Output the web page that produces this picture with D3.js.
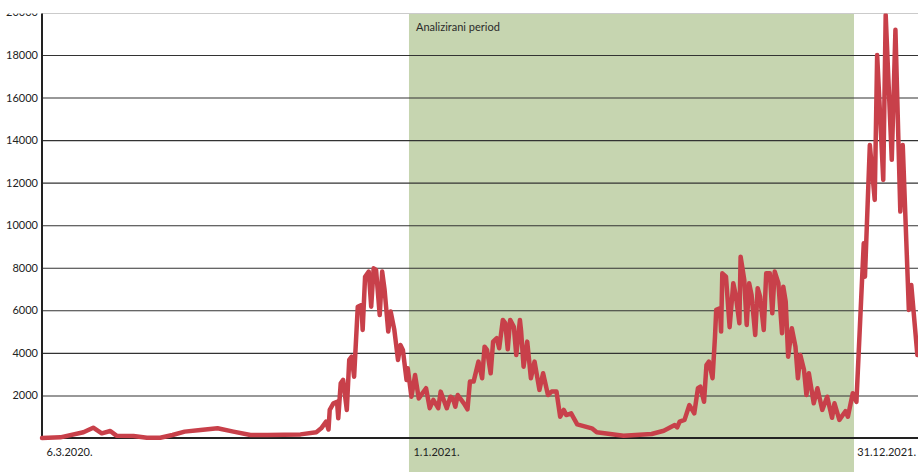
<!DOCTYPE html>
<html>
<head>
<meta charset="utf-8">
<script src="https://cdn.jsdelivr.net/npm/d3@7"></script>
<style>
  html, body { margin: 0; padding: 0; background: #fff; }
  svg { display: block; font-family: Lato, "Open Sans", sans-serif; }
</style>
</head>
<body>
<svg id="chart" width="918" height="472"></svg>
<script>
// ---- data ----
const days2020 = [
  "03-06","03-21",
  "04-09","04-17","04-24",
  "05-01","05-06","05-20","05-31",
  "06-11","06-21",
  "07-01","07-14","07-28",
  "08-10","08-24",
  "09-07",
  "10-04","10-17","10-21","10-25","10-27","10-28","10-31",
  "11-03","11-04","11-06","11-08","11-11","11-13","11-15","11-17","11-20","11-23","11-24","11-26","11-29",
  "12-01","12-03","12-05","12-08","12-10","12-12","12-15","12-17","12-20","12-23","12-25","12-27","12-30","12-31"
];
const cases2020 = [
  0,30,
  270,485,220,
  330,110,95,10,
  15,140,
  300,375,455,
  300,140,
  140,
  170,270,455,770,400,1320,1630,
  1700,925,2570,2730,1320,3670,3820,2880,6170,6250,5080,7580,7820,
  6170,7975,7900,5780,7820,6960,5000,5940,5080,3670,4370,4140,2730,3280
];
const days2021 = [
  "01-03","01-06","01-09","01-15","01-18","01-21","01-25","01-27",
  "02-01","02-04","02-06","02-08","02-10","02-15","02-18","02-20","02-23","02-27",
  "03-02","03-04","03-06","03-09","03-11","03-14","03-16","03-19","03-21","03-23","03-25","03-28","03-30",
  "04-02","04-03","04-05","04-08","04-11","04-14","04-18","04-21","04-25","04-28",
  "05-02","05-05","05-08","05-10","05-14","05-19","05-31",
  "06-04","06-26",
  "07-19","07-29",
  "08-07","08-09","08-11","08-15","08-19","08-23","08-26","08-28","08-31",
  "09-02","09-04","09-07","09-09","09-10","09-13","09-14","09-15","09-18","09-21","09-24","09-26","09-29","09-30",
  "10-03","10-05","10-07","10-09","10-12","10-14","10-16","10-19","10-21","10-24","10-26","10-28","10-31",
  "11-03","11-04","11-06","11-08","11-11","11-14","11-16","11-18","11-21","11-23","11-25","11-29",
  "12-02","12-06","12-10","12-14","12-16","12-20","12-25","12-27","12-31"
];
const cases2021 = [
  1940,2960,1860,2340,1400,1790,1400,2180,
  1400,1940,1860,1470,2020,1630,1350,2650,2650,3590,
  2810,4290,4140,3040,4530,4690,4220,5550,5400,4170,5550,5230,3900,
  5550,5000,3350,4530,2810,3590,2260,3040,2020,2180,
  2180,1000,1320,1080,1160,640,455,
  270,110,
  190,340,
  610,500,770,850,1550,1160,2340,2410,1700,
  3430,3590,2810,4760,6020,6100,5000,7740,7580,5210,7270,6720,5390,8520,
  7430,5310,7270,6720,4840,7040,6640,5080,7740,7740,5860,7820,7270,
  4920,7110,6410,3820,5160,4290,2810,3900,3200,2020,3040,1630,
  2340,1320,1940,950,1630,850,1260,1000,2100
];
const days2022 = [
  "01-03","01-09","01-10","01-14","01-18","01-20","01-25","01-27",
  "02-01","02-04","02-08","02-10","02-15","02-17","02-22"
];
const cases2022 = [
  1700,9150,7580,13770,11190,18000,12130,19880,
  13070,19180,10640,13770,6020,7190,3900
];

const yTicks = [2000,4000,6000,8000,10000,12000,14000,16000,18000,20000];
const xTickDates = ["2020-03-06","2021-01-01","2021-12-31"];
const xTickLabels = ["6.3.2020.","1.1.2021.","31.12.2021."];
const periodStart = "2021-01-01";
const periodEnd = "2022-01-01";
const periodLabel = "Analizirani period";
const xDomain = ["2020-03-06","2022-02-23"];

// ---- build ----
const parse = d3.timeParse("%Y-%m-%d");
const data = [];
[[2020, days2020, cases2020], [2021, days2021, cases2021], [2022, days2022, cases2022]]
  .forEach(([yr, ds, vs]) => ds.forEach((d, i) => data.push({date: parse(yr + "-" + d), value: vs[i]})));

const W = 918, H = 472;
const mLeft = 42, mRight = 918.6, mBottom = 438, mTop = 12.4;

const x = d3.scaleTime().domain(xDomain.map(parse)).range([mLeft, mRight]);
const y = d3.scaleLinear().domain([0, 20000]).range([mBottom, mTop]);

const svg = d3.select("#chart");
svg.append("defs").append("clipPath").attr("id", "clipAll")
  .append("rect").attr("x", 0).attr("y", 13.6).attr("width", W).attr("height", H);

const g = svg.append("g").attr("clip-path", "url(#clipAll)");

// analysed period band
g.append("rect")
  .attr("x", x(parse(periodStart)))
  .attr("y", 14)
  .attr("width", x(parse(periodEnd)) - x(parse(periodStart)))
  .attr("height", H - 14)
  .attr("fill", "#c6d5b0");

g.append("text")
  .attr("x", x(parse(periodStart)) + 7)
  .attr("y", 30.5)
  .attr("font-size", 11)
  .attr("fill", "#2b2b2b")
  .text(periodLabel);

// y axis with gridlines
const yAxis = d3.axisLeft(y).tickValues(yTicks).tickSize(0).tickPadding(4)
  .tickFormat(d3.format("d"));
const yg = g.append("g").attr("transform", `translate(${mLeft},0)`).call(yAxis);
yg.select(".domain").remove();
yg.selectAll("text").attr("font-size", 11).attr("fill", "#222").attr("font-family", "Lato, sans-serif");
yg.selectAll(".tick").append("line")
  .attr("x1", 0).attr("x2", W - mLeft)
  .attr("stroke", "#333").attr("stroke-width", 1.1);

// x axis
const xAxis = d3.axisBottom(x).tickValues(xTickDates.map(parse)).tickSize(0)
  .tickFormat((d, i) => xTickLabels[i]);
const xg = g.append("g").attr("transform", `translate(0,${mBottom})`).call(xAxis);
xg.select(".domain").remove();
xg.selectAll("text")
  .attr("text-anchor", "start")
  .attr("dx", 4)
  .attr("y", 10)
  .attr("font-size", 11)
  .attr("fill", "#222")
  .attr("font-family", "Lato, sans-serif");

// baseline and left axis line
g.append("line").attr("x1", mLeft).attr("x2", W).attr("y1", mBottom).attr("y2", mBottom)
  .attr("stroke", "#222").attr("stroke-width", 2);
g.append("line").attr("x1", mLeft).attr("x2", mLeft).attr("y1", 13).attr("y2", mBottom + 1)
  .attr("stroke", "#222").attr("stroke-width", 2);

// series line
const line = d3.line().x(d => x(d.date)).y(d => y(d.value));
g.append("path").datum(data)
  .attr("d", line)
  .attr("fill", "none")
  .attr("stroke", "#c8404a")
  .attr("stroke-width", 4.5)
  .attr("stroke-linejoin", "round")
  .attr("stroke-linecap", "round");
</script>
</body>
</html>
